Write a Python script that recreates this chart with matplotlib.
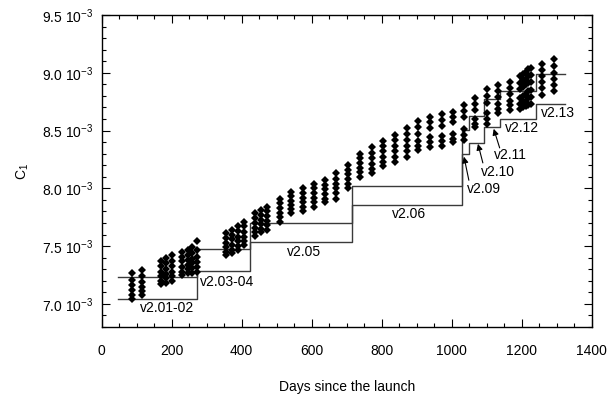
import matplotlib
matplotlib.use('Agg')
import matplotlib.pyplot as plt
from matplotlib.ticker import MultipleLocator, FuncFormatter
import numpy as np

plt.rcParams['font.family'] = ['Liberation Sans', 'DejaVu Sans']
plt.rcParams['mathtext.default'] = 'regular'

# measurement dates (days since launch) and the C1 values of each column (units of 1e-3)
days = [87, 115, 169, 185, 201, 228, 247, 259, 272, 355, 371, 390, 406,
        438, 455, 473, 509, 542, 574, 607, 638, 670, 704, 737, 771, 804,
        837, 871, 904, 937, 971, 1003, 1035, 1066, 1100, 1133, 1166, 1195,
        1205, 1212, 1219, 1226, 1258, 1291]
c1_cols = [
    [7.27, 7.21, 7.16, 7.12, 7.08, 7.04],
    [7.29, 7.24, 7.19, 7.15, 7.11, 7.08],
    [7.37, 7.33, 7.28, 7.24, 7.20, 7.17],
    [7.40, 7.35, 7.30, 7.26, 7.22, 7.18],
    [7.42, 7.37, 7.33, 7.28, 7.24, 7.20],
    [7.45, 7.41, 7.37, 7.32, 7.28, 7.25],
    [7.47, 7.42, 7.38, 7.34, 7.30, 7.27],
    [7.49, 7.44, 7.39, 7.35, 7.31, 7.27],
    [7.54, 7.47, 7.41, 7.36, 7.32, 7.28],
    [7.61, 7.57, 7.53, 7.49, 7.45, 7.42],
    [7.64, 7.60, 7.56, 7.51, 7.47, 7.44],
    [7.67, 7.63, 7.58, 7.54, 7.50, 7.47],
    [7.71, 7.67, 7.62, 7.58, 7.54, 7.51],
    [7.79, 7.74, 7.70, 7.66, 7.62, 7.59],
    [7.81, 7.77, 7.73, 7.69, 7.65, 7.62],
    [7.84, 7.80, 7.76, 7.72, 7.68, 7.64],
    [7.91, 7.87, 7.83, 7.79, 7.75, 7.71],
    [7.97, 7.93, 7.89, 7.86, 7.82, 7.79],
    [8.00, 7.96, 7.92, 7.88, 7.84, 7.80],
    [8.04, 8.00, 7.96, 7.92, 7.88, 7.84],
    [8.07, 8.03, 7.99, 7.95, 7.91, 7.88],
    [8.13, 8.08, 8.04, 8.00, 7.96, 7.91],
    [8.20, 8.16, 8.12, 8.08, 8.04, 8.00],
    [8.30, 8.26, 8.22, 8.18, 8.14, 8.10],
    [8.36, 8.31, 8.26, 8.21, 8.17, 8.13],
    [8.41, 8.37, 8.32, 8.27, 8.23, 8.19],
    [8.46, 8.42, 8.37, 8.32, 8.27, 8.23],
    [8.52, 8.47, 8.42, 8.37, 8.32, 8.27],
    [8.58, 8.53, 8.47, 8.41, 8.37, 8.33],
    [8.62, 8.57, 8.52, 8.44, 8.40, 8.36],
    [8.64, 8.59, 8.54, 8.45, 8.41, 8.37],
    [8.66, 8.62, 8.57, 8.47, 8.43, 8.40],
    [8.72, 8.67, 8.62, 8.51, 8.46, 8.42],
    [8.78, 8.73, 8.68, 8.60, 8.56, 8.53],
    [8.86, 8.80, 8.74, 8.65, 8.60, 8.56],
    [8.89, 8.84, 8.79, 8.73, 8.69, 8.65],
    [8.92, 8.87, 8.82, 8.76, 8.72, 8.68],
    [8.97, 8.91, 8.86, 8.78, 8.73, 8.69],
    [8.99, 8.94, 8.88, 8.80, 8.75, 8.70],
    [9.01, 8.95, 8.90, 8.82, 8.76, 8.71],
    [9.03, 8.97, 8.91, 8.84, 8.78, 8.72],
    [9.04, 8.98, 8.92, 8.85, 8.79, 8.73],
    [9.08, 9.02, 8.97, 8.92, 8.87, 8.81],
    [9.12, 9.06, 9.00, 8.95, 8.89, 8.84],
]

# software versions: validity boundaries (days) and band limits (units of 1e-3)
version_edges = [46, 271, 423, 714, 1028, 1050, 1093, 1137, 1242, 1325]
band_upper = [7.236, 7.473, 7.703, 8.021, 8.505, 8.625, 8.771, 8.843, 8.986]
band_lower = [7.046, 7.283, 7.534, 7.856, 8.295, 8.395, 8.531, 8.603, 8.733]

# version labels: text, x, y
version_labels = [
    ('v2.01-02', 188, 6.965),
    ('v2.03-04', 359, 7.193),
    ('v2.05', 578, 7.447),
    ('v2.06', 877, 7.776),
    ('v2.09', 1092, 7.992),
    ('v2.10', 1131, 8.144),
    ('v2.11', 1169, 8.289),
    ('v2.12', 1200, 8.520),
    ('v2.13', 1303, 8.650),
]
# arrows pointing to the short-lived versions: (tip, tail)
version_arrows = [
    ((1035, 8.274), (1049, 8.07)),
    ((1075, 8.385), (1089, 8.22)),
    ((1120, 8.515), (1137, 8.35)),
]

fig = plt.figure(figsize=(6.08, 3.98), dpi=100, facecolor='white')
ax = fig.add_axes([0.1673, 0.1784, 0.8059, 0.7839])

# step lines for the version bands
for band in (band_upper, band_lower):
    ys = np.array(band + [band[-1]]) * 1e-3
    ax.step(version_edges, ys, where='post', color='#3a3a3a', lw=1.0, zorder=2)

# measured points
for d, col in zip(days, c1_cols):
    ax.plot([d] * len(col), np.array(col) * 1e-3, linestyle='none',
            marker='D', markersize=4.2, color='black', markeredgewidth=0,
            zorder=3)

for txt, x, y in version_labels:
    ax.text(x, y * 1e-3, txt, fontsize=10, ha='center', va='center', zorder=4)

for (tx, ty), (sx, sy) in version_arrows:
    ax.annotate('', xy=(tx, ty * 1e-3), xytext=(sx, sy * 1e-3),
                arrowprops=dict(arrowstyle='-|>', color='black', lw=0.8,
                                mutation_scale=9, shrinkA=0, shrinkB=0))

ax.set_xlim(0, 1400)
ax.set_ylim(6.8e-3, 9.5e-3)
ax.xaxis.set_major_locator(MultipleLocator(200))
ax.xaxis.set_minor_locator(MultipleLocator(50))
ax.yaxis.set_major_locator(MultipleLocator(0.5e-3))
ax.yaxis.set_minor_locator(MultipleLocator(0.1e-3))
ax.yaxis.set_major_formatter(
    FuncFormatter(lambda v, p: f'{v * 1e3:.1f} 10$^{{-3}}$'))

ax.tick_params(which='both', direction='in', top=True, right=True,
               labelsize=10, width=0.8)
ax.tick_params(which='major', length=5.5)
ax.tick_params(which='minor', length=3)
ax.tick_params(axis='x', pad=12)
ax.tick_params(axis='y', pad=6)
for s in ax.spines.values():
    s.set_linewidth(1.0)

ax.set_xlabel('Days since the launch', fontsize=10, labelpad=16)
ax.set_ylabel('C$_1$', fontsize=10, labelpad=8)

fig.savefig('out.png', dpi=100, facecolor='white')
